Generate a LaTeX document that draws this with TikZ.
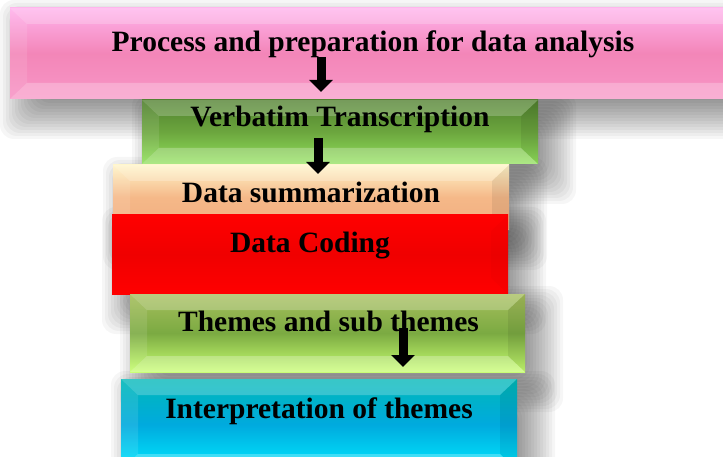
\documentclass[tikz,border=0pt]{standalone}
\usepackage{fontspec}
\setmainfont{Liberation Serif}
\usetikzlibrary{arrows.meta}
\pgfdeclarelayer{shadowlayer}
\pgfsetlayers{shadowlayer,main}

\def\bevT{0.22}\def\bevB{0.25}\def\bevL{0.10}\def\bevR{0.07}
\tikzset{
  flatbevel/.code={\def\bevT{0.0}\def\bevB{0.0}\def\bevL{0.0}\def\bevR{0.02}},
  bevelbox/.style={rectangle, inner sep=0pt, outer sep=0pt, draw=none,
    path picture={
      \fill[white, opacity=\bevT] (path picture bounding box.north west) -- (path picture bounding box.north east)
        -- ([xshift=-17pt,yshift=-16pt]path picture bounding box.north east)
        -- ([xshift=17pt,yshift=-16pt]path picture bounding box.north west) -- cycle;
      \fill[white, opacity=\bevB] (path picture bounding box.south west) -- (path picture bounding box.south east)
        -- ([xshift=-17pt,yshift=16pt]path picture bounding box.south east)
        -- ([xshift=17pt,yshift=16pt]path picture bounding box.south west) -- cycle;
      \fill[white, opacity=\bevL] (path picture bounding box.north west) -- (path picture bounding box.south west)
        -- ([xshift=17pt,yshift=16pt]path picture bounding box.south west)
        -- ([xshift=17pt,yshift=-16pt]path picture bounding box.north west) -- cycle;
      \fill[black, opacity=\bevR] (path picture bounding box.north east) -- (path picture bounding box.south east)
        -- ([xshift=-17pt,yshift=16pt]path picture bounding box.south east)
        -- ([xshift=-17pt,yshift=-16pt]path picture bounding box.north east) -- cycle;
    }},
  shadowlayerfill/.style={fill=black, opacity=0.036, rounded corners=14pt},
  txt/.style={font=\fontsize{29.5}{33}\selectfont\bfseries, inner sep=0pt, anchor=base, text=black},
  blockarrow/.style={draw=black, line width=9pt, -{Triangle[width=23pt,length=12pt]}}
}
\newcommand\softshade[1]{%
  \begin{pgfonlayer}{shadowlayer}
  \foreach \r in {-21,-18,...,24}{
    \fill[shadowlayerfill] ([shift={(14-\r,16-\r)}]#1.north west) rectangle ([shift={(14+\r,16+\r)}]#1.south east);
  }
  \end{pgfonlayer}}

\begin{document}
\begin{tikzpicture}[x=1pt,y=-1pt]
\useasboundingbox (0,0) rectangle (723,457);
\clip (0,0) rectangle (723,457);
\begin{pgfonlayer}{shadowlayer}
\fill[white] (0,0) rectangle (723,457);
\end{pgfonlayer}

% boxes
\node[bevelbox, minimum width=730pt, minimum height=91pt,
  top color={rgb,255:red,255;green,178;blue,236}, bottom color={rgb,255:red,248;green,150;blue,198},
  middle color={rgb,255:red,243;green,134;blue,184}] (b1) at (375,53.5) {};
\node[bevelbox, minimum width=396pt, minimum height=64pt,
  top color={rgb,255:red,80;green,128;blue,46}, bottom color={rgb,255:red,146;green,226;blue,92},
  middle color={rgb,255:red,108;green,166;blue,62}] (b2) at (340,132) {};
\node[bevelbox, minimum width=396pt, minimum height=65pt,
  top color={rgb,255:red,255;green,244;blue,200}, bottom color={rgb,255:red,242;green,174;blue,128},
  middle color={rgb,255:red,245;green,184;blue,136}] (b3) at (311,197.5) {};
\node[bevelbox, flatbevel, minimum width=396pt, minimum height=79pt,
  top color={rgb,255:red,255;green,0;blue,0}, bottom color={rgb,255:red,255;green,0;blue,0},
  middle color={rgb,255:red,240;green,0;blue,0}] (b4) at (310,254.5) {};
\node[bevelbox, minimum width=395pt, minimum height=78pt,
  top color={rgb,255:red,166;green,190;blue,92}, bottom color={rgb,255:red,200;green,255;blue,112},
  middle color={rgb,255:red,123;green,170;blue,66}] (b5) at (327.5,333) {};
\node[bevelbox, minimum width=396pt, minimum height=91pt,
  top color={rgb,255:red,0;green,184;blue,184}, bottom color={rgb,255:red,0;green,232;blue,255},
  middle color={rgb,255:red,0;green,170;blue,222}] (b6) at (319,424.5) {};

\softshade{b1}
\softshade{b2}
\softshade{b3}
\softshade{b4}
\softshade{b5}
\softshade{b6}

% texts
\node[txt] (t1) at (373,52) {Process and preparation for data analysis};
\node[txt] (t2) at (340,126.5) {Verbatim Transcription};
\node[txt] (t3) at (311,203) {Data summarization};
\node[txt] (t4) at (310,253) {Data Coding};
\node[txt] (t5) at (328.5,331.5) {Themes and sub themes};
\node[txt] (t6) at (319,418) {Interpretation of themes};

% arrows
\coordinate (a1s) at (321,57);
\coordinate (a1e) at (321,92);
\coordinate (a2s) at (318,138);
\coordinate (a2e) at (318,174);
\coordinate (a3s) at (403,328);
\coordinate (a3e) at (403,367);
\draw[blockarrow] (a1s) -- (a1e);
\draw[blockarrow] (a2s) -- (a2e);
\draw[blockarrow] (a3s) -- (a3e);
\end{tikzpicture}
\end{document}
